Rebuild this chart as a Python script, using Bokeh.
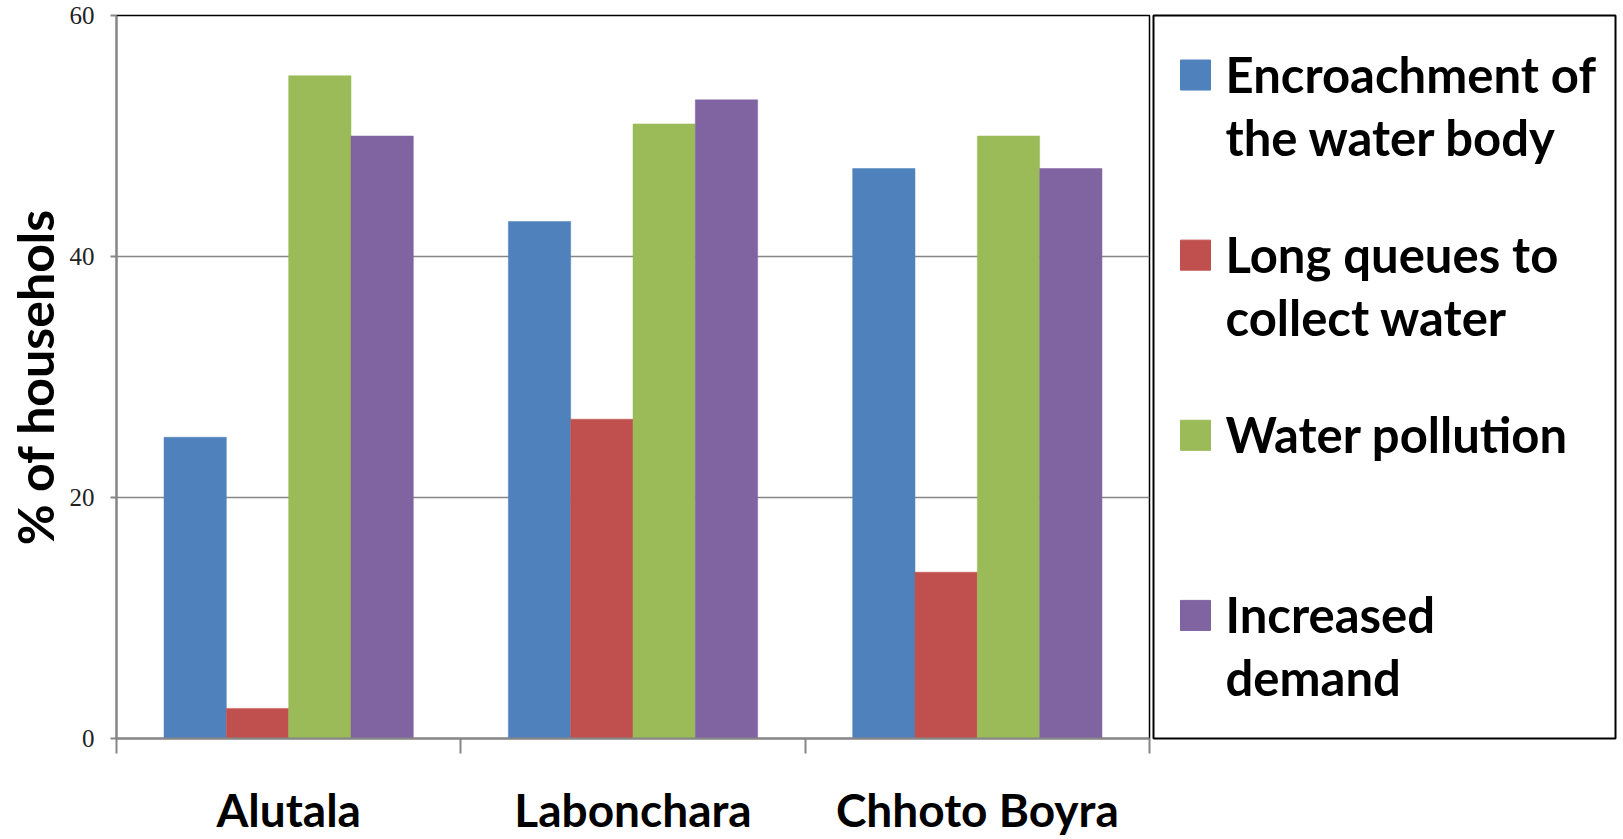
from bokeh.plotting import figure
from bokeh.models import Range1d, FixedTicker, ColumnDataSource
from bokeh.layouts import row
from bokeh.embed import file_html
from bokeh.resources import INLINE
from bokeh.core.properties import value

# Survey results: share of households reporting each water problem
villages = ["Alutala", "Labonchara", "Chhoto Boyra"]
encroachment = [25.0, 42.9, 47.3]
long_queues = [2.5, 26.5, 13.8]
pollution = [55.0, 51.0, 50.0]
demand = [50.0, 53.0, 47.3]

series_names = [
    ["Encroachment of", "the water body"],
    ["Long queues to", "collect water"],
    ["Water pollution"],
    ["Increased", "demand"],
]
series_values = [encroachment, long_queues, pollution, demand]
colors = ["#4F81BD", "#C0504D", "#9BBB59", "#8064A2"]
y_ticks = [0, 20, 40, 60]

LABEL_FONT = "Lato"
GRAY = "#868686"

# ---- main bar chart ----
p = figure(
    width=1152, height=839,
    x_range=Range1d(0, len(villages)), y_range=Range1d(0, 60),
    output_backend="svg", toolbar_location=None,
    min_border_left=116, min_border_right=3,
    min_border_top=15, min_border_bottom=60,
)
p.background_fill_color = "white"
p.border_fill_color = "white"
p.outline_line_color = "black"
p.outline_line_width = 1.5

bar_w = 0.181
n = len(series_values)
for k, (vals, col) in enumerate(zip(series_values, colors)):
    offset = (k - (n - 1) / 2) * bar_w
    src = ColumnDataSource(dict(x=[i + 0.5 + offset for i in range(len(villages))], top=vals))
    p.vbar(x="x", top="top", bottom=0, width=bar_w, source=src,
           fill_color=col, line_color=col, line_width=0.5)

# x axis: category names centred, tick marks on group boundaries
p.xaxis.ticker = FixedTicker(ticks=[i + 0.5 for i in range(len(villages))],
                             minor_ticks=list(range(len(villages) + 1)))
p.xaxis.major_label_overrides = {i + 0.5: v for i, v in enumerate(villages)}
p.xaxis.major_tick_out = 0
p.xaxis.major_tick_in = 0
p.xaxis.minor_tick_out = 15
p.xaxis.minor_tick_in = 0
p.xaxis.minor_tick_line_color = GRAY
p.xaxis.minor_tick_line_width = 2
p.xaxis.axis_line_color = GRAY
p.xaxis.axis_line_width = 2
p.xaxis.major_label_text_font = LABEL_FONT
p.xaxis.major_label_text_font_style = "bold"
p.xaxis.major_label_text_font_size = "46px"
p.xaxis.major_label_text_color = "black"
p.xaxis.major_label_standoff = 28

# y axis
p.yaxis.ticker = FixedTicker(ticks=y_ticks)
p.yaxis.major_tick_out = 6
p.yaxis.major_tick_in = 0
p.yaxis.minor_tick_line_color = None
p.yaxis.major_tick_line_color = GRAY
p.yaxis.major_tick_line_width = 2
p.yaxis.axis_line_color = GRAY
p.yaxis.axis_line_width = 2
p.yaxis.major_label_text_font = "Liberation Serif"
p.yaxis.major_label_text_font_size = "25px"
p.yaxis.major_label_text_color = "#222222"
p.yaxis.major_label_standoff = 16
p.yaxis.axis_label = "% of househols"
p.yaxis.axis_label_text_font = LABEL_FONT
p.yaxis.axis_label_text_font_style = "bold"
p.yaxis.axis_label_text_font_size = "50px"
p.yaxis.axis_label_text_color = "black"
p.yaxis.axis_label_standoff = 2

p.xgrid.grid_line_color = None
p.ygrid.ticker = FixedTicker(ticks=y_ticks)
p.ygrid.grid_line_color = GRAY
p.ygrid.grid_line_width = 1.5

# ---- legend panel (its frame lines up with the chart frame) ----
frame_h = 722.5
leg = figure(
    width=471, height=839,
    x_range=Range1d(0, 462), y_range=Range1d(frame_h, 0),
    output_backend="svg", toolbar_location=None,
    min_border_left=1, min_border_right=8, min_border_top=0, min_border_bottom=0,
    x_axis_location=None, y_axis_location=None,
)
leg.grid.visible = False
leg.outline_line_color = "black"
leg.outline_line_width = 2
leg.background_fill_color = "white"
leg.border_fill_color = "white"

item_top = 44.5
item_gap = 180
line_gap = 63
sq_x, sq_w = 27, 30
txt_x = 72

sq = dict(left=[], right=[], top=[], bottom=[], color=[])
tx = dict(x=[], y=[], text=[])
for k, (lines, col) in enumerate(zip(series_names, colors)):
    top = item_top + k * item_gap
    sq["left"].append(sq_x)
    sq["right"].append(sq_x + sq_w)
    sq["top"].append(top)
    sq["bottom"].append(top + sq_w)
    sq["color"].append(col)
    for j, line in enumerate(lines):
        tx["x"].append(txt_x)
        tx["y"].append(top + sq_w - 16 + j * line_gap)
        tx["text"].append(line)

leg.quad(left="left", right="right", top="top", bottom="bottom",
         fill_color="color", line_color="color", source=ColumnDataSource(sq))
leg.text(x="x", y="y", text="text", source=ColumnDataSource(tx),
         text_font=value(LABEL_FONT), text_font_style="bold",
         text_font_size="49px", text_baseline="alphabetic",
         text_align="left", text_color="black")

layout = row(p, leg)
open("out.html", "w").write(file_html(layout, INLINE))
